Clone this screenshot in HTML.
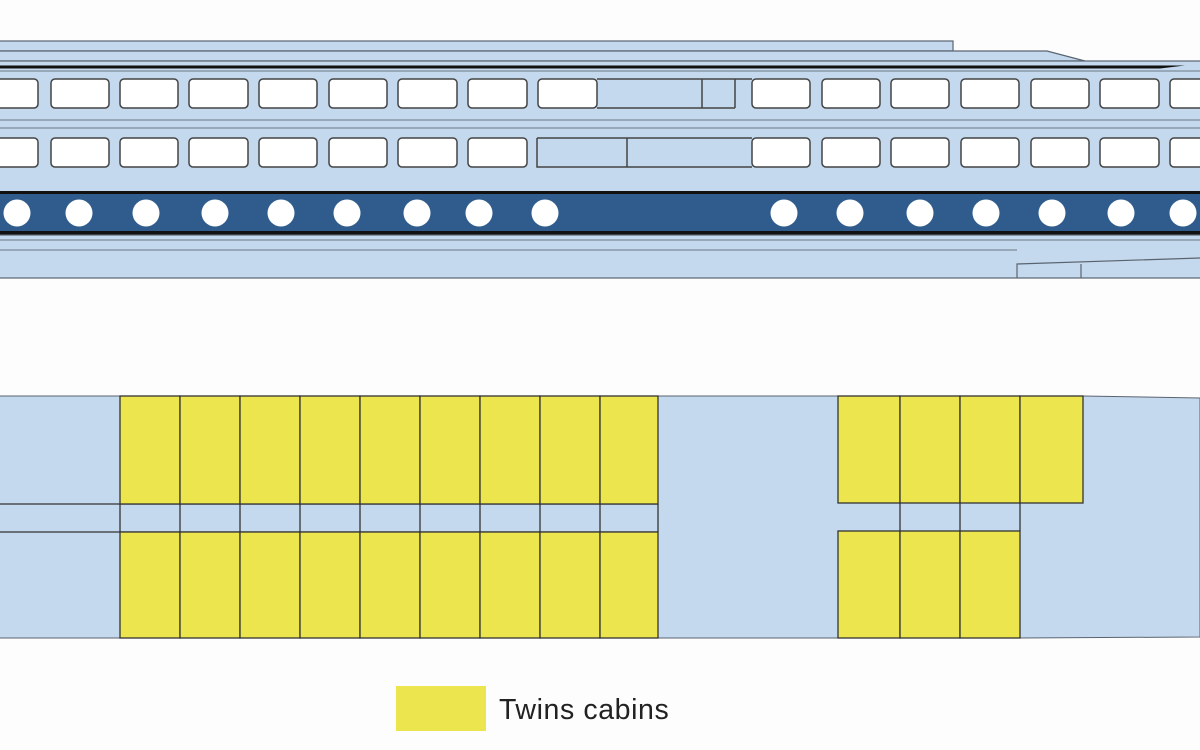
<!DOCTYPE html>
<html><head><meta charset="utf-8"><style>
html,body{margin:0;padding:0;background:#fdfdfd;width:1200px;height:750px;overflow:hidden}
svg{display:block}
</style></head><body>
<svg width="1200" height="750" viewBox="0 0 1200 750" xmlns="http://www.w3.org/2000/svg">
<rect width="1200" height="750" fill="#fdfdfd"/>
<g stroke="#5a6470" stroke-width="1.2">
<rect x="-2" y="41" width="955" height="10" fill="#c4d9ee"/>
<path d="M-2 51 H1047 L1085 61 H-2 Z" fill="#c4d9ee"/>
<rect x="-2" y="61" width="1204" height="132" fill="#c4d9ee"/>
</g>
<path d="M-2 65.5 H1185 L1160 68.5 H-2 Z" fill="#111"/>
<line x1="0" y1="71" x2="1200" y2="71" stroke="#6a7684" stroke-width="1"/>
<line x1="0" y1="120" x2="1200" y2="120" stroke="#6a7684" stroke-width="1"/>
<line x1="0" y1="128" x2="1200" y2="128" stroke="#6a7684" stroke-width="1"/>
<g fill="#fff" stroke="#444" stroke-width="1.5">
<rect x="-10" y="79" width="48" height="29" rx="4"/>
<rect x="51" y="79" width="58" height="29" rx="4"/>
<rect x="120" y="79" width="58" height="29" rx="4"/>
<rect x="189" y="79" width="59" height="29" rx="4"/>
<rect x="259" y="79" width="58" height="29" rx="4"/>
<rect x="329" y="79" width="58" height="29" rx="4"/>
<rect x="398" y="79" width="59" height="29" rx="4"/>
<rect x="468" y="79" width="59" height="29" rx="4"/>
<rect x="538" y="79" width="59" height="29" rx="4"/>
<rect x="752" y="79" width="58" height="29" rx="4"/>
<rect x="822" y="79" width="58" height="29" rx="4"/>
<rect x="891" y="79" width="58" height="29" rx="4"/>
<rect x="961" y="79" width="58" height="29" rx="4"/>
<rect x="1031" y="79" width="58" height="29" rx="4"/>
<rect x="1100" y="79" width="59" height="29" rx="4"/>
<rect x="1170" y="79" width="50" height="29" rx="4"/>
<rect x="-10" y="138" width="48" height="29" rx="4"/>
<rect x="51" y="138" width="58" height="29" rx="4"/>
<rect x="120" y="138" width="58" height="29" rx="4"/>
<rect x="189" y="138" width="59" height="29" rx="4"/>
<rect x="259" y="138" width="58" height="29" rx="4"/>
<rect x="329" y="138" width="58" height="29" rx="4"/>
<rect x="398" y="138" width="59" height="29" rx="4"/>
<rect x="468" y="138" width="59" height="29" rx="4"/>
<rect x="752" y="138" width="58" height="29" rx="4"/>
<rect x="822" y="138" width="58" height="29" rx="4"/>
<rect x="891" y="138" width="58" height="29" rx="4"/>
<rect x="961" y="138" width="58" height="29" rx="4"/>
<rect x="1031" y="138" width="58" height="29" rx="4"/>
<rect x="1100" y="138" width="59" height="29" rx="4"/>
<rect x="1170" y="138" width="50" height="29" rx="4"/>
</g>
<g fill="none" stroke="#444" stroke-width="1.5">
<path d="M597 108 H702 M702 79 V108 M735 79 V108 M702 108 H735"/>
<path d="M537 138 V167 H752 M627 138 V167 M537 138 H752"/>
<path d="M597 79 H752"/>
</g>
<rect x="-2" y="191" width="1204" height="3" fill="#111"/>
<rect x="-2" y="194" width="1204" height="38" fill="#2f5c8c"/>
<rect x="-2" y="231" width="1204" height="4" fill="#111"/>
<g fill="#fff">
<circle cx="17" cy="213" r="13.5"/><circle cx="79" cy="213" r="13.5"/><circle cx="146" cy="213" r="13.5"/>
<circle cx="215" cy="213" r="13.5"/><circle cx="281" cy="213" r="13.5"/><circle cx="347" cy="213" r="13.5"/>
<circle cx="417" cy="213" r="13.5"/><circle cx="479" cy="213" r="13.5"/><circle cx="545" cy="213" r="13.5"/>
<circle cx="784" cy="213" r="13.5"/><circle cx="850" cy="213" r="13.5"/><circle cx="920" cy="213" r="13.5"/>
<circle cx="986" cy="213" r="13.5"/><circle cx="1052" cy="213" r="13.5"/><circle cx="1121" cy="213" r="13.5"/>
<circle cx="1183" cy="213" r="13.5"/>
</g>
<rect x="-2" y="235" width="1204" height="43" fill="#c4d9ee" stroke="#5a6470" stroke-width="1.2"/>
<line x1="0" y1="240" x2="1200" y2="240" stroke="#6a7684" stroke-width="1"/>
<line x1="0" y1="250" x2="1017" y2="250" stroke="#6a7684" stroke-width="1"/>
<path d="M1017 278 V264 L1200 258 M1081 264 V278" fill="none" stroke="#5a6470" stroke-width="1.2"/>
<path d="M-2 396 H1083 L1200 398 V637 L1020 638 H-2 Z" fill="#c4d9ee" stroke="#5a6470" stroke-width="1"/>
<g stroke="#333" stroke-width="1.3">
<line x1="0" y1="504" x2="658" y2="504"/>
<line x1="0" y1="532" x2="658" y2="532"/>
</g>
<g fill="#ede54e" stroke="#333" stroke-width="1.3">
<rect x="120" y="396" width="60" height="108"/><rect x="180" y="396" width="60" height="108"/><rect x="240" y="396" width="60" height="108"/>
<rect x="300" y="396" width="60" height="108"/><rect x="360" y="396" width="60" height="108"/><rect x="420" y="396" width="60" height="108"/>
<rect x="480" y="396" width="60" height="108"/><rect x="540" y="396" width="60" height="108"/><rect x="600" y="396" width="58" height="108"/>
<rect x="120" y="532" width="60" height="106"/><rect x="180" y="532" width="60" height="106"/><rect x="240" y="532" width="60" height="106"/>
<rect x="300" y="532" width="60" height="106"/><rect x="360" y="532" width="60" height="106"/><rect x="420" y="532" width="60" height="106"/>
<rect x="480" y="532" width="60" height="106"/><rect x="540" y="532" width="60" height="106"/><rect x="600" y="532" width="58" height="106"/>
<rect x="838" y="396" width="62" height="107"/><rect x="900" y="396" width="60" height="107"/><rect x="960" y="396" width="60" height="107"/><rect x="1020" y="396" width="63" height="107"/>
<rect x="838" y="531" width="62" height="107"/><rect x="900" y="531" width="60" height="107"/><rect x="960" y="531" width="60" height="107"/>
</g>
<g stroke="#333" stroke-width="1.3">
<line x1="120" y1="504" x2="120" y2="532"/><line x1="180" y1="504" x2="180" y2="532"/><line x1="240" y1="504" x2="240" y2="532"/>
<line x1="300" y1="504" x2="300" y2="532"/><line x1="360" y1="504" x2="360" y2="532"/><line x1="420" y1="504" x2="420" y2="532"/>
<line x1="480" y1="504" x2="480" y2="532"/><line x1="540" y1="504" x2="540" y2="532"/><line x1="600" y1="504" x2="600" y2="532"/>
<line x1="658" y1="504" x2="658" y2="532"/>
<line x1="900" y1="503" x2="900" y2="531"/><line x1="960" y1="503" x2="960" y2="531"/><line x1="1020" y1="503" x2="1020" y2="531"/>
</g>
<rect x="396" y="686" width="90" height="45" fill="#ede54e"/>
<text x="499" y="719" font-family="'Liberation Sans', sans-serif" font-size="28.5" letter-spacing="0.6" fill="#222">Twins cabins</text>
</svg>
</body></html>
